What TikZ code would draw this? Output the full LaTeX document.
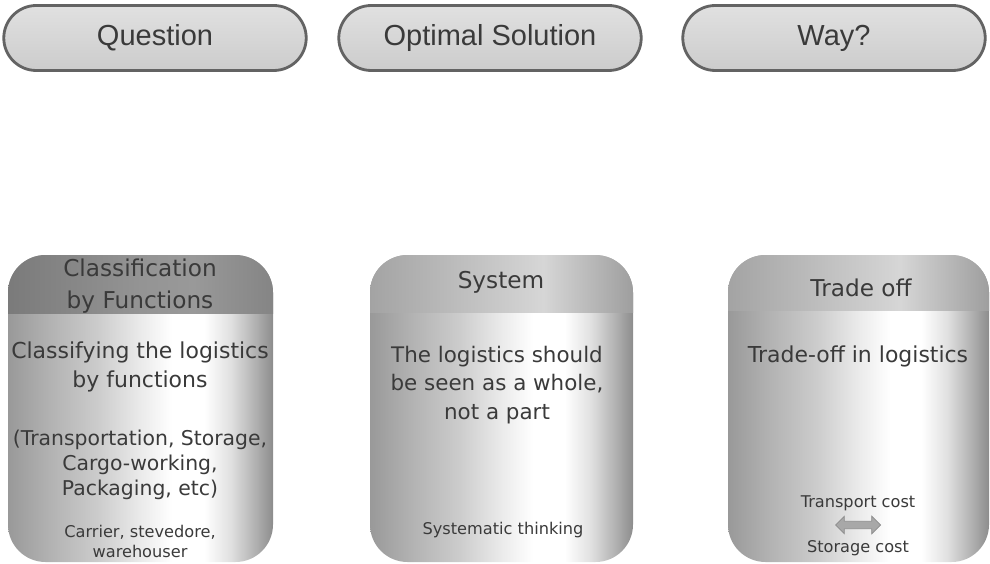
\documentclass[tikz,border=0pt]{standalone}
\usepackage{fontspec}
\setmainfont{DejaVu Sans}
\newfontfamily\pillfont{Liberation Sans}
\usepackage{tikz}
\usetikzlibrary{shapes.arrows}

\definecolor{txtgray}{HTML}{3A3A3A}
\definecolor{pillline}{HTML}{636363}
\definecolor{arrowgray}{HTML}{A8A8A8}

\pgfdeclarehorizontalshading{bodyshade}{100bp}{color(0bp)=(black!40); color(25bp)=(black!40);
  color(33bp)=(black!30); color(42bp)=(black!20); color(50bp)=(black!8); color(56bp)=(white);
  color(62bp)=(white); color(67bp)=(black!12); color(72bp)=(black!32); color(75bp)=(black!45);
  color(100bp)=(black!45)}
\pgfdeclarehorizontalshading{headshade}{100bp}{color(0bp)=(black!36); color(25bp)=(black!36);
  color(50bp)=(black!21); color(58bp)=(black!16); color(75bp)=(black!38); color(100bp)=(black!38)}
\pgfdeclarehorizontalshading{darkheadshade}{100bp}{color(0bp)=(black!52); color(25bp)=(black!52);
  color(50bp)=(black!42); color(60bp)=(black!40); color(75bp)=(black!48); color(100bp)=(black!48)}

\begin{document}
\begin{tikzpicture}[x=0.02cm, y=-0.02cm,
  every node/.style={text=txtgray, align=center, inner sep=0pt, outer sep=0pt},
  pill/.style={draw=pillline, line width=1.6pt, rounded corners=0.65cm,
    minimum width=6.05cm, minimum height=1.3cm, top color=black!12, middle color=black!4,
    bottom color=black!20, font=\pillfont\fontsize{16.5}{18}\selectfont},
  headtext/.style={font=\fontsize{13.2}{18}\selectfont},
  bodytext/.style={font=\fontsize{12.5}{16.6}\selectfont},
  smalltext/.style={font=\fontsize{9.2}{11.4}\selectfont}]
\useasboundingbox (0,0) rectangle (990,564);

% top row
\node[pill] (question) at (155,38) {Question};
\node[pill] (optimal) at (490,38) {Optimal Solution};
\node[pill] (way) at (834,38) {Way?};

% boxes
\shade[shading=bodyshade, rounded corners=0.75cm] (8,255) rectangle (273,562);
\shade[shading=bodyshade, rounded corners=0.75cm] (370,255) rectangle (633,562);
\shade[shading=bodyshade, rounded corners=0.75cm] (728,255) rectangle (989,562);

\begin{scope}
\clip[rounded corners=0.75cm] (8,255) rectangle (273,562);
\shade[shading=darkheadshade] (8,255) rectangle (273,313);
\end{scope}
\begin{scope}
\clip[rounded corners=0.75cm] (370,255) rectangle (633,562);
\shade[shading=headshade] (370,255) rectangle (633,312);
\end{scope}
\begin{scope}
\clip[rounded corners=0.75cm] (728,255) rectangle (989,562);
\shade[shading=headshade] (728,255) rectangle (989,310);
\end{scope}

% classification
\node[headtext] (classhead) at (140,286) {Classification\\by Functions};
\node[bodytext] (classtext) at (140,367) {Classifying the logistics\\by functions};
\node[font=\fontsize{11.6}{14.2}\selectfont] (functions) at (140,465) {(Transportation, Storage,\\Cargo-working,\\Packaging, etc)};
\node[smalltext] (actors) at (140,541) {Carrier, stevedore,\\warehouser};

% system
\node[headtext] (syshead) at (501,282) {System};
\node[bodytext, font=\fontsize{12.2}{16.2}\selectfont] (systext) at (497,385) {The logistics should\\be seen as a whole,\\not a part};
\node[smalltext] (systhink) at (503,530) {Systematic thinking};

% trade off
\node[headtext] (tradehead) at (861,288) {Trade off};
\node[bodytext] (tradetext) at (858,356) {Trade-off in logistics};
\node[smalltext] (transport) at (858,503) {Transport cost};
\node[double arrow, fill=arrowgray, draw=black!45, line width=0.4pt, minimum height=0.9cm,
  minimum width=9.5pt, double arrow head extend=2.8pt, inner sep=2pt] (costarrow) at (858,525) {};
\node[smalltext] (storage) at (858,548) {Storage cost};
\end{tikzpicture}
\end{document}
